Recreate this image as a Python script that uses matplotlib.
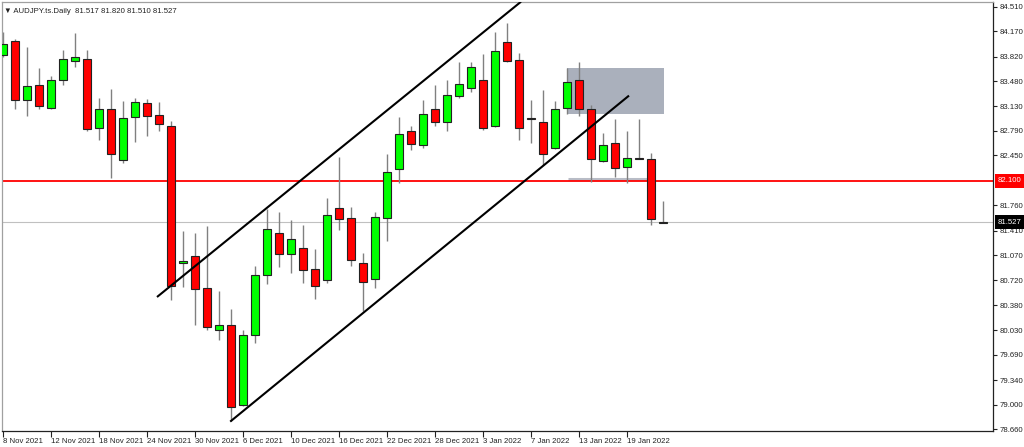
import matplotlib.pyplot as plt
import matplotlib.transforms as mtransforms
import numpy as np

plt.rcParams['font.family'] = ['Liberation Sans', 'DejaVu Sans']

# Daily AUDJPY candles, 8 Nov 2021 .. 24 Jan 2022
opens = [83.84, 84.04, 83.22, 83.43, 83.11, 83.49, 83.76, 83.79, 82.83, 83.10,
         82.39, 82.98, 83.17, 83.01, 82.86, 80.96, 81.06, 80.61, 80.04, 80.11,
         79.00, 79.97, 80.79, 81.38, 81.08, 81.17, 80.88, 80.73, 81.72, 81.58,
         80.96, 80.74, 81.59, 82.26, 82.79, 82.60, 83.09, 82.91, 83.28, 83.38,
         83.49, 82.86, 84.02, 83.77, 82.97, 82.92, 82.56, 83.11, 83.49, 83.10,
         82.38, 82.62, 82.29, 82.41, 82.40, 81.517]
highs = [84.16, 84.06, 83.95, 83.66, 83.55, 83.91, 84.14, 83.91, 83.25, 83.37,
         83.21, 83.24, 83.23, 83.19, 82.93, 81.41, 81.38, 81.47, 80.57, 80.32,
         80.04, 80.92, 81.71, 81.67, 81.56, 81.49, 81.15, 81.86, 82.43, 81.74,
         81.10, 81.67, 82.47, 82.98, 82.86, 83.22, 83.43, 83.50, 83.75, 83.74,
         83.86, 84.16, 84.28, 83.87, 83.22, 83.36, 83.21, 83.66, 83.74, 83.15,
         82.76, 82.96, 82.79, 82.96, 82.48, 81.820]
lows = [83.81, 83.10, 82.99, 83.10, 83.09, 83.42, 83.68, 82.79, 82.67, 82.14,
        82.35, 82.64, 82.72, 82.79, 80.45, 80.63, 80.11, 80.04, 79.90, 78.78,
        78.98, 79.85, 80.67, 80.91, 80.82, 80.69, 80.47, 80.69, 81.42, 80.92,
        80.30, 80.61, 81.26, 82.07, 82.53, 82.55, 82.86, 82.79, 83.25, 83.33,
        82.80, 82.85, 83.74, 82.67, 82.62, 82.32, 82.54, 83.02, 82.99, 82.09,
        82.36, 82.15, 82.07, 82.41, 81.49, 81.510]
closes = [84.00, 83.22, 83.41, 83.13, 83.49, 83.79, 83.81, 82.81, 83.10, 82.47,
          82.97, 83.19, 83.00, 82.89, 80.65, 80.99, 80.60, 80.07, 80.11, 78.97,
          79.96, 80.80, 81.43, 81.08, 81.29, 80.87, 80.65, 81.63, 81.57, 81.01,
          80.70, 81.60, 82.22, 82.75, 82.61, 83.03, 82.92, 83.29, 83.44, 83.68,
          82.83, 83.89, 83.76, 82.83, 82.96, 82.47, 83.10, 83.47, 83.10, 82.40,
          82.60, 82.28, 82.41, 82.40, 81.57, 81.527]

date_ticks = [0, 4, 8, 12, 16, 20, 24, 28, 32, 36, 40, 44, 48, 52]
date_labels = ['8 Nov 2021', '12 Nov 2021', '18 Nov 2021', '24 Nov 2021',
               '30 Nov 2021', '6 Dec 2021', '10 Dec 2021', '16 Dec 2021',
               '22 Dec 2021', '28 Dec 2021', '3 Jan 2022', '7 Jan 2022',
               '13 Jan 2022', '19 Jan 2022']
price_ticks = [84.510, 84.170, 83.820, 83.480, 83.130, 82.790, 82.450,
               81.760, 81.410, 81.070, 80.720, 80.380, 80.030, 79.690,
               79.340, 79.000, 78.660]

level = 82.100
bid = 81.527
upper_channel = ([12.9, 43.1], [80.50, 84.57])
lower_channel = ([19.0, 52.1], [78.775, 83.27])
zone_x = [47.0, 55.05]
zone_y = [83.02, 83.66]
support_x = [47.1, 53.75]
support_y = 82.125

fig = plt.figure(figsize=(10.24, 4.47), dpi=100)
ax = fig.add_axes([2 / 1024, 16 / 447, 991 / 1024, 429 / 447])

idx = np.arange(len(opens))
o = np.array(opens)
c = np.array(closes)
up = c >= o
body_bottom = np.minimum(o, c)
body_height = np.abs(c - o)

# supply zone rectangle and support segment
ax.fill_between(zone_x, zone_y[0], zone_y[1], color='#aab0bc', lw=0, zorder=0.5)
ax.plot(support_x, [support_y, support_y], color='#b8bcc6', lw=2.2,
        solid_capstyle='butt', zorder=0.6)

# horizontal levels
ax.axhline(level, color='#ff0000', lw=1.3, zorder=1)
ax.axhline(bid, color='#c0c0c0', lw=0.8, zorder=0.8)

# candles
ax.vlines(idx, lows, highs, color='#808080', lw=1.0, zorder=2)
colors = np.where(up, '#00ff00', '#ff0000')
ax.bar(idx, body_height, bottom=body_bottom, width=0.6, color=colors,
       edgecolor='#222222', linewidth=0.8, zorder=3)

# channel lines
ax.plot(*upper_channel, color='black', lw=1.5, zorder=4)
ax.plot(*lower_channel, color='black', lw=1.5, zorder=4)

ax.set_xlim(-1 / 12, 990 / 12)
ax.set_ylim(78.636, 84.575)

ax.yaxis.tick_right()
ax.set_yticks(price_ticks)
ax.set_yticklabels(['%.3f' % p for p in price_ticks])
ax.tick_params(axis='y', length=3, width=0.8, pad=2, labelsize=5.6, colors='#222222')
ax.set_xticks(date_ticks)
ax.set_xticklabels(date_labels, ha='left')
ax.tick_params(axis='x', length=4, width=0.8, pad=1, labelsize=5.6, colors='#222222')

for side in ['top', 'left']:
    ax.spines[side].set_color('#a0a0a0')
for side in ['right', 'bottom']:
    ax.spines[side].set_color('#222222')
for s in ax.spines.values():
    s.set_linewidth(0.9)

# price labels on the right axis
trans = mtransforms.blended_transform_factory(ax.transAxes, ax.transData)
ax.text(1.005, level, '82.100', transform=trans, ha='left', va='center',
        fontsize=5.6, color='white', clip_on=False,
        bbox=dict(boxstyle='square,pad=0.42', fc='#ff0000', ec='none'))
ax.text(1.005, bid, '81.527', transform=trans, ha='left', va='center',
        fontsize=5.6, color='white', clip_on=False,
        bbox=dict(boxstyle='square,pad=0.42', fc='black', ec='none'))

ax.text(0.002, 0.985, '\u25bc AUDJPY.ts.Daily  81.517 81.820 81.510 81.527',
        transform=ax.transAxes, ha='left', va='top', fontsize=5.6, color='#222222')

plt.savefig('out.png', dpi=100)
